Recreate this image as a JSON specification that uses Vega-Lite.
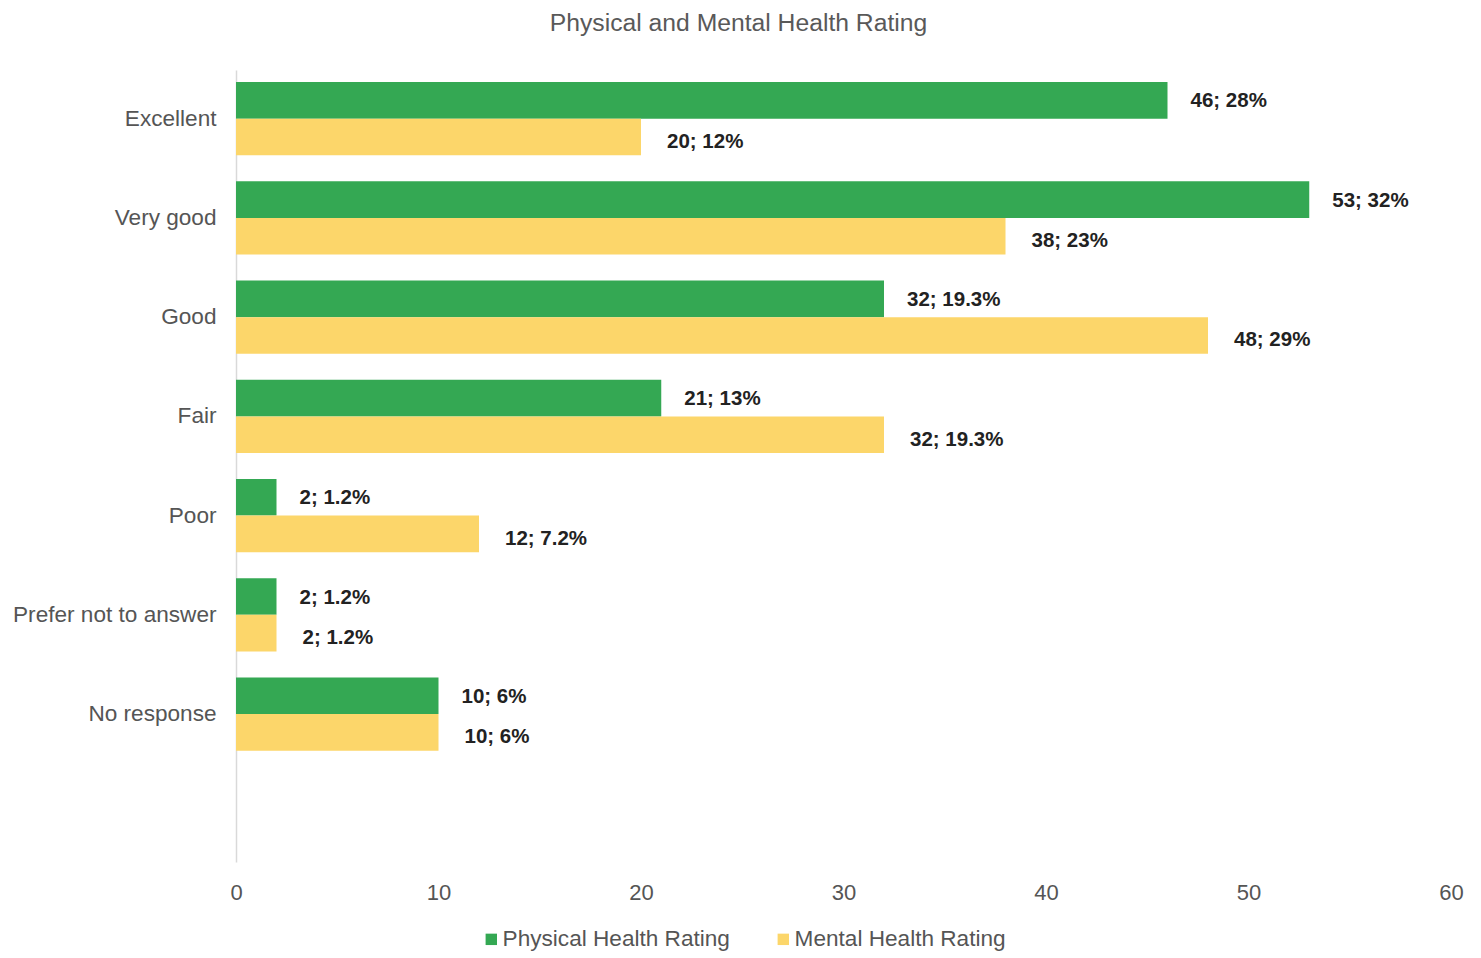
{
  "$schema": "https://vega.github.io/schema/vega-lite/v6.json",
  "autosize": {"type": "none"},
  "width": 1215,
  "height": 792,
  "padding": {"left": 236, "top": 70, "right": 30, "bottom": 96},
  "background": "white",
  "title": {
    "text": "Physical and Mental Health Rating",
    "font": "Liberation Sans",
    "fontSize": 24.7,
    "fontWeight": "normal",
    "color": "#595959",
    "anchor": "middle",
    "dx": -105,
    "offset": 34
  },
  "config": {
    "view": {"stroke": null},
    "font": "Liberation Sans"
  },
  "data": {
    "values": [
      {"rating": "Excellent", "series": "Physical Health Rating", "count": 46, "label": "46; 28%"},
      {"rating": "Excellent", "series": "Mental Health Rating", "count": 20, "label": "20; 12%"},
      {"rating": "Very good", "series": "Physical Health Rating", "count": 53, "label": "53; 32%"},
      {"rating": "Very good", "series": "Mental Health Rating", "count": 38, "label": "38; 23%"},
      {"rating": "Good", "series": "Physical Health Rating", "count": 32, "label": "32; 19.3%"},
      {"rating": "Good", "series": "Mental Health Rating", "count": 48, "label": "48; 29%"},
      {"rating": "Fair", "series": "Physical Health Rating", "count": 21, "label": "21; 13%"},
      {"rating": "Fair", "series": "Mental Health Rating", "count": 32, "label": "32; 19.3%"},
      {"rating": "Poor", "series": "Physical Health Rating", "count": 2, "label": "2; 1.2%"},
      {"rating": "Poor", "series": "Mental Health Rating", "count": 12, "label": "12; 7.2%"},
      {"rating": "Prefer not to answer", "series": "Physical Health Rating", "count": 2, "label": "2; 1.2%"},
      {"rating": "Prefer not to answer", "series": "Mental Health Rating", "count": 2, "label": "2; 1.2%"},
      {"rating": "No response", "series": "Physical Health Rating", "count": 10, "label": "10; 6%"},
      {"rating": "No response", "series": "Mental Health Rating", "count": 10, "label": "10; 6%"}
    ]
  },
  "encoding": {
    "y": {
      "field": "rating",
      "type": "nominal",
      "scale": {
        "domain": ["Excellent", "Very good", "Good", "Fair", "Poor", "Prefer not to answer", "No response", " "],
        "paddingInner": 0.26,
        "paddingOuter": 0.12
      },
      "axis": {
        "title": null,
        "ticks": false,
        "domain": true,
        "domainColor": "#d9d9d9",
        "domainWidth": 1.5,
        "labelFont": "Liberation Sans",
        "labelFontSize": 22.6,
        "labelColor": "#555555",
        "labelPadding": 20,
        "labelLimit": 0
      }
    },
    "yOffset": {
      "field": "series",
      "type": "nominal",
      "scale": {"domain": ["Physical Health Rating", "Mental Health Rating"], "paddingInner": 0, "paddingOuter": 0}
    },
    "x": {
      "field": "count",
      "type": "quantitative",
      "scale": {"domain": [0, 60], "nice": false},
      "axis": {
        "title": null,
        "grid": false,
        "ticks": false,
        "domain": false,
        "values": [0, 10, 20, 30, 40, 50, 60],
        "labelFont": "Liberation Sans",
        "labelFontSize": 22,
        "labelColor": "#555555",
        "labelPadding": 20,
        "labelFlush": false
      }
    }
  },
  "layer": [
    {
      "mark": {"type": "bar"},
      "encoding": {
        "color": {
          "field": "series",
          "type": "nominal",
          "scale": {"domain": ["Physical Health Rating", "Mental Health Rating"], "range": ["#34a853", "#fcd66a"]},
          "legend": {
            "title": null,
            "orient": "none",
            "direction": "horizontal",
            "legendX": 244,
            "legendY": 858,
            "symbolType": "square",
            "symbolSize": 130,
            "symbolStrokeWidth": 0,
            "labelFont": "Liberation Sans",
            "labelFontSize": 22.6,
            "labelColor": "#555555",
            "labelOffset": 0,
            "labelLimit": 0,
            "columnPadding": 42
          }
        }
      }
    },
    {
      "transform": [{"filter": "datum.series === 'Physical Health Rating'"}],
      "mark": {"type": "text", "align": "left", "baseline": "middle", "dx": 23, "dy": 1, "fontSize": 20.5, "fontWeight": "bold", "color": "#222222", "font": "Liberation Sans"},
      "encoding": {
        "text": {"field": "label"}
      }
    },
    {
      "transform": [{"filter": "datum.series === 'Mental Health Rating'"}],
      "mark": {"type": "text", "align": "left", "baseline": "middle", "dx": 26, "dy": 5, "fontSize": 20.5, "fontWeight": "bold", "color": "#222222", "font": "Liberation Sans"},
      "encoding": {
        "text": {"field": "label"}
      }
    }
  ]
}
